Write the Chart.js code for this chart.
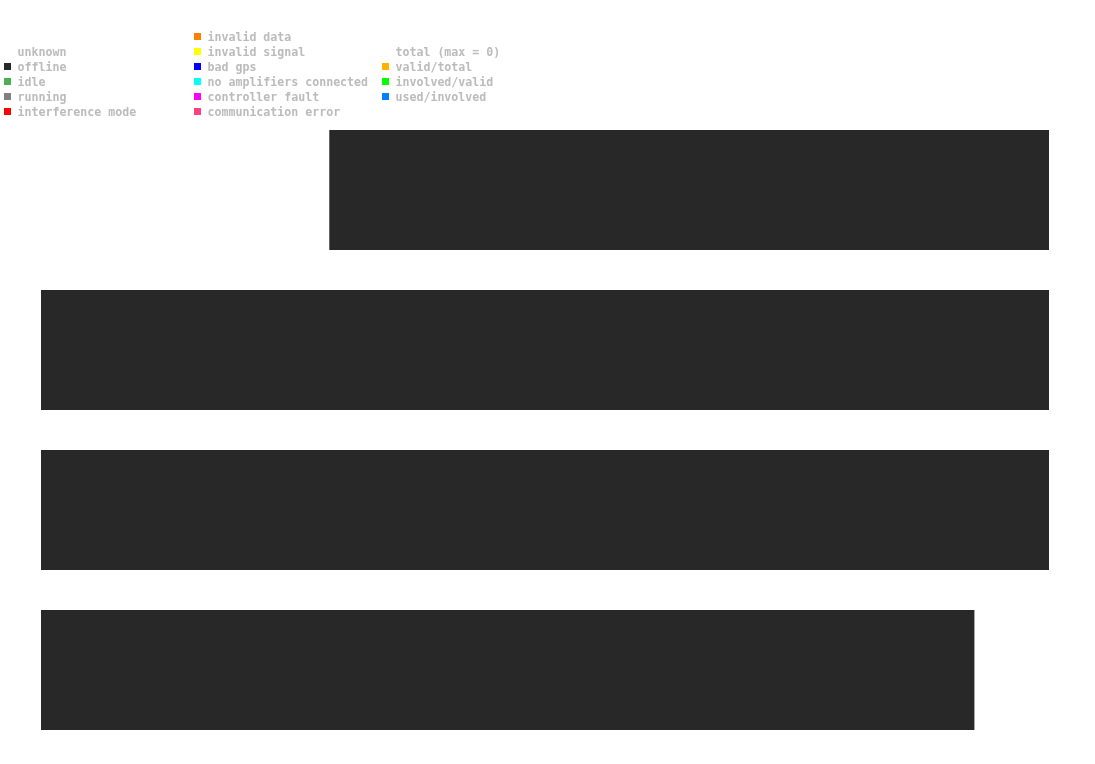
<!DOCTYPE html>
<html>
<head>
<meta charset="utf-8">
<script src="https://cdn.jsdelivr.net/npm/chart.js@4"></script>
<style>
  body { margin: 0; background: #fff; }
</style>
</head>
<body>
<canvas id="statusChart" width="1095" height="764"></canvas>
<script>
  // rows of the timeline (no labels shown)
  let categories = ['1', '2', '3', '4'];

  // share of each row per status (percent)
  let unknownValues = [28.6, 0, 0, 0];
  let offlineValues = [71.4, 100, 100, 92.6];

  let statusLabels = ['unknown', 'offline', 'idle', 'running', 'interference mode'];
  let statusColors = [null, '#282828', '#4caf50', '#808080', '#ff0000'];

  let errorLabels = ['invalid data', 'invalid signal', 'bad gps', 'no amplifiers connected', 'controller fault', 'communication error'];
  let errorColors = ['#ff8000', '#ffff00', '#0000ff', '#00ffff', '#ff00ff', '#ff4080'];

  let qualityLabels = ['total (max = 0)', 'valid/total', 'involved/valid', 'used/involved'];
  let qualityColors = [null, '#ffb000', '#00ff00', '#0080ff'];

  let legendColumns = [
    { labels: statusLabels, colors: statusColors, x: 4, top: 52 },
    { labels: errorLabels, colors: errorColors, x: 194, top: 37 },
    { labels: qualityLabels, colors: qualityColors, x: 382, top: 52 }
  ];

  let columnLegend = {
    id: 'columnLegend',
    afterDraw: function (chart) {
      let c = chart.ctx;
      c.save();
      c.font = 'bold 11.6px "DejaVu Sans Mono", monospace';
      c.textBaseline = 'middle';
      legendColumns.forEach(function (col) {
        col.labels.forEach(function (label, i) {
          let y = col.top + i * 15;
          if (col.colors[i]) {
            c.fillStyle = col.colors[i];
            c.fillRect(col.x, y - 4, 7, 7);
          }
          c.fillStyle = '#bbbbbb';
          c.fillText(label, col.x + 13.5, y + 1);
        });
      });
      c.restore();
    }
  };

  let ctx = document.getElementById('statusChart').getContext('2d');

  let statusChart = new Chart(ctx, {
    type: 'bar',
    data: {
      labels: categories,
      datasets: [
        { label: 'unknown', data: unknownValues, backgroundColor: 'rgba(0,0,0,0)' },
        { label: 'offline', data: offlineValues, backgroundColor: '#282828' }
      ]
    },
    options: {
      indexAxis: 'y',
      responsive: false,
      animation: false,
      barPercentage: 0.75,
      categoryPercentage: 1,
      layout: {
        padding: { top: 110, left: 41, right: 46, bottom: 14 }
      },
      scales: {
        x: { stacked: true, min: 0, max: 100, display: false },
        y: { stacked: true, display: false }
      },
      plugins: {
        legend: { display: false },
        tooltip: { enabled: false }
      }
    },
    plugins: [columnLegend]
  });
</script>
</body>
</html>
